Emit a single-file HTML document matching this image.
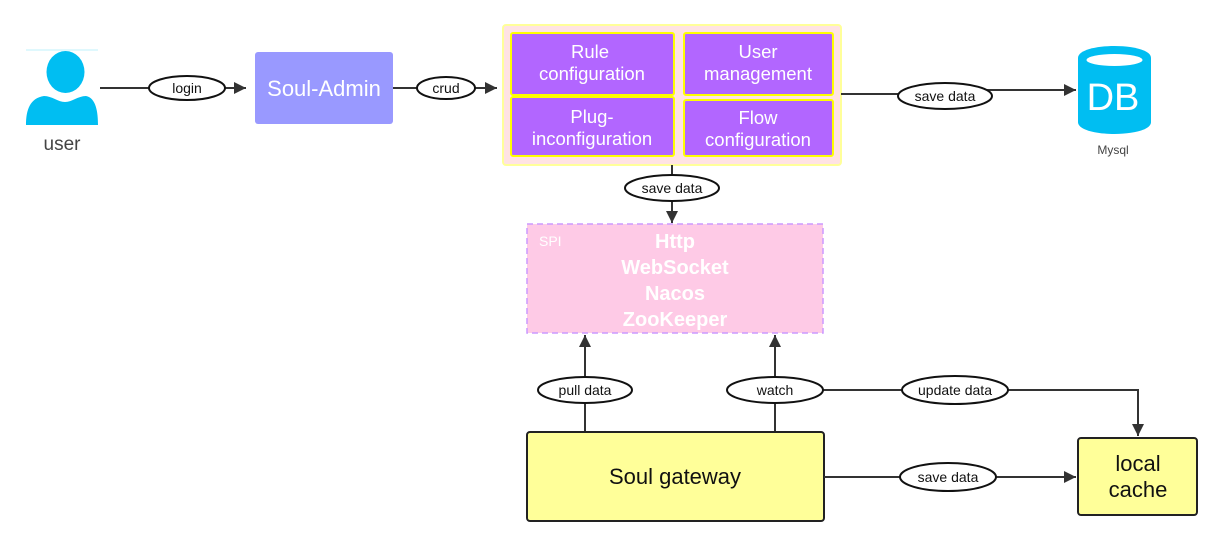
<!DOCTYPE html>
<html><head><meta charset="utf-8"><style>
html,body{margin:0;padding:0;background:#fff;}
svg{display:block;font-family:"Liberation Sans",sans-serif;}
</style></head><body>
<svg width="1221" height="546" viewBox="0 0 1221 546" xmlns="http://www.w3.org/2000/svg">
<defs>
<marker id="b" viewBox="0 0 10 10" refX="10" refY="5" markerWidth="16" markerHeight="12" markerUnits="userSpaceOnUse" orient="auto"><path d="M0,0 L10,5 L0,10 z" fill="#333"/></marker>
</defs>
<!-- user -->
<line x1="26" y1="50" x2="98" y2="50" stroke="#bff0fb" stroke-width="1"/>
<ellipse cx="65.5" cy="72" rx="19" ry="21" fill="#00bef2"/>
<path d="M26,125 C26,110 30,98 44,96 C52,96 58,102 65,102 C72,102 78,96 86,96 C96,98 98,112 98,125 Z" fill="#00bef2"/>
<text x="62" y="150" font-size="19" fill="#444" text-anchor="middle">user</text>
<!-- login -->
<line x1="100" y1="88" x2="246" y2="88" stroke="#333" stroke-width="2" marker-end="url(#b)"/>
<ellipse cx="187" cy="88" rx="38" ry="12" fill="#fff" stroke="#111" stroke-width="2"/>
<text x="187" y="93" font-size="14" text-anchor="middle" fill="#111">login</text>
<!-- Soul-Admin -->
<rect x="255" y="52" width="138" height="72" rx="3" fill="#9999ff"/>
<text x="324" y="96" font-size="22" fill="#fff" text-anchor="middle">Soul-Admin</text>
<line x1="393" y1="88" x2="497" y2="88" stroke="#333" stroke-width="2" marker-end="url(#b)"/>
<ellipse cx="446" cy="88" rx="29" ry="11" fill="#fff" stroke="#111" stroke-width="2"/>
<text x="446" y="93" font-size="14" text-anchor="middle" fill="#111">crud</text>
<!-- config group -->
<rect x="503" y="25" width="338" height="140" rx="3" fill="#ffe3e3" stroke="#ffff99" stroke-width="2"/>
<g fill="#b266ff" stroke="#ffff00" stroke-width="2">
<rect x="511" y="33" width="163" height="62" rx="2"/>
<rect x="684" y="33" width="149" height="62" rx="2"/>
<rect x="511" y="97" width="163" height="59" rx="2"/>
<rect x="684" y="100" width="149" height="56" rx="2"/>
</g>
<g font-size="18.5" fill="#fff" text-anchor="middle">
<text x="590" y="58">Rule</text><text x="592" y="80">configuration</text>
<text x="758" y="58">User</text><text x="758" y="80">management</text>
<text x="592" y="123">Plug-</text><text x="592" y="145">inconfiguration</text>
<text x="758" y="124">Flow</text><text x="758" y="146">configuration</text>
</g>
<!-- to DB -->
<polyline points="841,94 945,94 945,90 1076,90" fill="none" stroke="#333" stroke-width="2" marker-end="url(#b)"/>
<ellipse cx="945" cy="96" rx="47" ry="13" fill="#fff" stroke="#111" stroke-width="2"/>
<text x="945" y="101" font-size="14" text-anchor="middle" fill="#111">save data</text>
<!-- DB -->
<path d="M1078,58 C1078,42 1151,42 1151,58 L1151,122 C1151,138 1078,138 1078,122 Z" fill="#00bef2"/>
<ellipse cx="1114.5" cy="60" rx="28" ry="6" fill="#fff"/>
<text x="1113" y="110" font-size="38" fill="#fff" text-anchor="middle">DB</text>
<text x="1113" y="154" font-size="12" fill="#444" text-anchor="middle">Mysql</text>
<!-- down to SPI -->
<line x1="672" y1="165" x2="672" y2="223" stroke="#333" stroke-width="2" marker-end="url(#b)"/>
<ellipse cx="672" cy="188" rx="47" ry="13" fill="#fff" stroke="#111" stroke-width="2"/>
<text x="672" y="193" font-size="14" text-anchor="middle" fill="#111">save data</text>
<!-- SPI -->
<rect x="527" y="224" width="296" height="109" fill="#fecae6" stroke="#cc99ff" stroke-width="1.5" stroke-dasharray="6,4"/>
<text x="539" y="246" font-size="14" fill="#fff">SPI</text>
<g font-size="20" fill="#fff" text-anchor="middle" font-weight="bold">
<text x="675" y="248">Http</text><text x="675" y="274">WebSocket</text><text x="675" y="300">Nacos</text><text x="675" y="326">ZooKeeper</text>
</g>
<!-- pull / watch -->
<line x1="585" y1="432" x2="585" y2="335" stroke="#333" stroke-width="2" marker-end="url(#b)"/>
<line x1="775" y1="432" x2="775" y2="335" stroke="#333" stroke-width="2" marker-end="url(#b)"/>
<polyline points="823,390 1138,390 1138,436" fill="none" stroke="#333" stroke-width="2" marker-end="url(#b)"/>
<ellipse cx="585" cy="390" rx="47" ry="13" fill="#fff" stroke="#111" stroke-width="2"/>
<text x="585" y="395" font-size="14" text-anchor="middle" fill="#111">pull data</text>
<ellipse cx="775" cy="390" rx="48" ry="13" fill="#fff" stroke="#111" stroke-width="2"/>
<text x="775" y="395" font-size="14" text-anchor="middle" fill="#111">watch</text>
<ellipse cx="955" cy="390" rx="53" ry="14" fill="#fff" stroke="#111" stroke-width="2"/>
<text x="955" y="395" font-size="14" text-anchor="middle" fill="#111">update data</text>
<!-- gateway -->
<rect x="527" y="432" width="297" height="89" rx="3" fill="#ffff99" stroke="#222" stroke-width="2"/>
<text x="675" y="484" font-size="22" text-anchor="middle" fill="#111">Soul gateway</text>
<line x1="824" y1="477" x2="1076" y2="477" stroke="#333" stroke-width="2" marker-end="url(#b)"/>
<ellipse cx="948" cy="477" rx="48" ry="14" fill="#fff" stroke="#111" stroke-width="2"/>
<text x="948" y="482" font-size="14" text-anchor="middle" fill="#111">save data</text>
<rect x="1078" y="438" width="119" height="77" rx="3" fill="#ffff99" stroke="#222" stroke-width="2"/>
<text x="1138" y="471" font-size="22" text-anchor="middle" fill="#111">local</text>
<text x="1138" y="497" font-size="22" text-anchor="middle" fill="#111">cache</text>
</svg>
</body></html>
